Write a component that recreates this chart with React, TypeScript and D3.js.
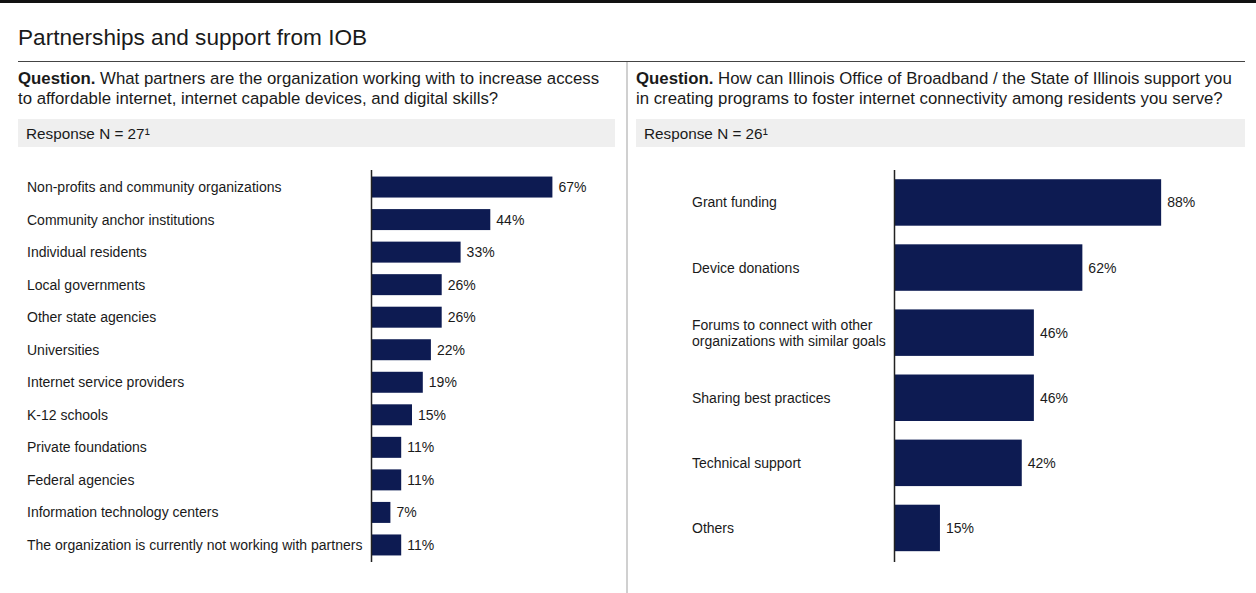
import React from "react";
import * as d3 from "d3";

const title = "Partnerships and support from IOB";

const leftQuestionLines = [
  "What partners are the organization working with to increase access",
  "to affordable internet, internet capable devices, and digital skills?",
];
const leftResponse = "Response N = 27\u00B9";
const leftCategories = [
  "Non-profits and community organizations",
  "Community anchor institutions",
  "Individual residents",
  "Local governments",
  "Other state agencies",
  "Universities",
  "Internet service providers",
  "K-12 schools",
  "Private foundations",
  "Federal agencies",
  "Information technology centers",
  "The organization is currently not working with partners",
];
const leftValues = [67, 44, 33, 26, 26, 22, 19, 15, 11, 11, 7, 11];

const rightQuestionLines = [
  "How can Illinois Office of Broadband / the State of Illinois support you",
  "in creating programs to foster internet connectivity among residents you serve?",
];
const rightResponse = "Response N = 26\u00B9";
const rightCategories = [
  "Grant funding",
  "Device donations",
  "Forums to connect with other\norganizations with similar goals",
  "Sharing best practices",
  "Technical support",
  "Others",
];
const rightValues = [88, 62, 46, 46, 42, 15];

const FONT = "'Liberation Sans', Arial, Helvetica, sans-serif";
const BAR = "#0d1b52";
const TXT = "#1a1a1a";

type PanelProps = {
  x0: number;
  boxW: number;
  questionLines: string[];
  response: string;
  categories: string[];
  values: number[];
  axisX: number;
  labelX: number;
  pxPerPct: number;
  bandRange: [number, number];
  padding: number;
};

function Panel(p: PanelProps) {
  const y = d3
    .scaleBand<string>()
    .domain(p.categories)
    .range(p.bandRange)
    .padding(p.padding);
  const x = d3
    .scaleLinear()
    .domain([0, 100])
    .range([p.axisX, p.axisX + p.pxPerPct * 100]);
  return (
    <g>
      <text x={p.x0} y={84} fontSize={16.8} fill={TXT}>
        <tspan fontWeight="bold">Question.</tspan>
        <tspan> {p.questionLines[0]}</tspan>
      </text>
      <text x={p.x0} y={104} fontSize={16.8} fill={TXT}>
        {p.questionLines[1]}
      </text>
      <rect x={p.x0} y={119} width={p.boxW} height={28} fill="#efefef" />
      <text x={p.x0 + 8} y={139} fontSize={15.3} fill={TXT}>
        {p.response}
      </text>
      {p.categories.map((c, i) => {
        const yy = (y(c) as number) + y.bandwidth() / 2;
        const lines = c.split("\n");
        const lh = 16;
        return (
          <g key={c}>
            <rect
              x={x(0)}
              y={y(c) as number}
              width={x(p.values[i]) - x(0)}
              height={y.bandwidth()}
              fill={BAR}
            />
            <text
              x={p.labelX}
              y={yy - ((lines.length - 1) * lh) / 2}
              fontSize={14}
              fill={TXT}
              dominantBaseline="central"
            >
              {lines.map((l, j) => (
                <tspan key={j} x={p.labelX} dy={j === 0 ? 0 : lh}>
                  {l}
                </tspan>
              ))}
            </text>
            <text
              x={x(p.values[i]) + 6}
              y={yy}
              fontSize={14}
              fill={TXT}
              dominantBaseline="central"
            >
              {p.values[i]}%
            </text>
          </g>
        );
      })}
      <line x1={p.axisX} x2={p.axisX} y1={170} y2={562} stroke="#222" strokeWidth={1.5} />
    </g>
  );
}

export default function App() {
  return (
    <svg
      width={1256}
      height={593}
      style={{ position: "absolute", left: 0, top: 0, background: "#fff" }}
      fontFamily={FONT}
    >
      <rect x={0} y={0} width={1256} height={3} fill="#111" />
      <text x={18} y={45} fontSize={22.6} fill={TXT}>
        {title}
      </text>
      <line x1={18} x2={1245} y1={61.5} y2={61.5} stroke="#444" strokeWidth={1} />
      <line x1={627} x2={627} y1={62} y2={593} stroke="#d0d0d0" strokeWidth={2} />
      <Panel
        x0={18}
        boxW={597}
        questionLines={leftQuestionLines}
        response={leftResponse}
        categories={leftCategories}
        values={leftValues}
        axisX={371.5}
        labelX={27}
        pxPerPct={2.7}
        bandRange={[165, 567]}
        padding={0.355}
      />
      <Panel
        x0={636}
        boxW={609}
        questionLines={rightQuestionLines}
        response={rightResponse}
        categories={rightCategories}
        values={rightValues}
        axisX={894.5}
        labelX={692}
        pxPerPct={3.03}
        bandRange={[160.6, 569.8]}
        padding={0.286}
      />
    </svg>
  );
}
